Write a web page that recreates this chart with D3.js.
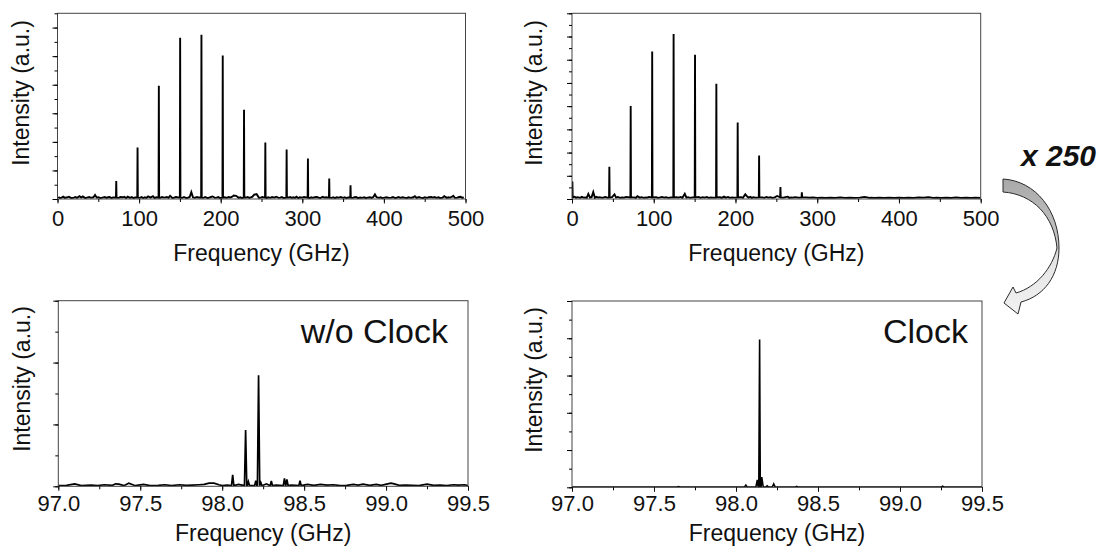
<!DOCTYPE html>
<html><head><meta charset="utf-8">
<script src="https://cdn.jsdelivr.net/npm/d3@7"></script>
<style>
body{margin:0;background:#fff}
svg{display:block}
text{font-family:"Liberation Sans",Arial,Helvetica,sans-serif;fill:#111}
</style>
</head><body>
<svg id="chart" width="1100" height="554"></svg>
<script>
// ---------------- DATA ----------------
// Top-left: comb spectrum without clock (intensity a.u.)
const peakFreqTL = [72.0, 98.1, 124.2, 150.3, 176.4, 202.5, 228.6, 254.7, 280.8, 306.9, 333.0, 359.1];
const peakIntTL  = [0.63, 1.80, 3.96, 5.64, 5.75, 5.02, 3.12, 1.98, 1.73, 1.42, 0.72, 0.48];
const noiseFreqTL = [1,3,5,7,9,12,14,17,20,22,24,27,29,31,34,36,39,41,44,46,48,50,53,55,58,60,62,64,66,68,75,77,80,82,84,86,89,91,93,95,101,103,105,107,109,111,114,117,119,121,126,128,131,134,136,138,141,143,145,147,153,155,158,160,162,164,166,168,171,173,179,181,184,186,188,190,193,195,197,199,205,207,210,212,214,216,219,222,224,226,231,233,235,237,239,241,244,247,249,251,256,258,261,263,266,268,271,273,275,277,283,285,287,289,291,293,295,297,300,302,309,311,313,315,318,320,322,325,327,329,336,338,340,342,345,347,350,352,354,356,362,364,366,368,371,373,376,378,380,383,385,387,389,391,394,396,398,401,403,406,409,411,414,416,418,420,423,425,428,430,433,436,438,440,443,445,448,450,453,455,458,460,462,464,467,469,472,474,477,479,481,483,485,487,490,492,494,496,498,500];
const noiseIntTL  = [0.07,0.03,0.05,0.08,0.04,0.06,0.08,0.03,0.05,0.07,0.04,0.10,0.05,0.09,0.03,0.05,0.07,0.04,0.06,0.14,0.05,0.06,0.03,0.05,0.07,0.04,0.06,0.07,0.03,0.05,0.04,0.07,0.06,0.08,0.03,0.08,0.04,0.07,0.03,0.05,0.04,0.07,0.03,0.06,0.04,0.09,0.05,0.10,0.03,0.06,0.04,0.07,0.05,0.07,0.04,0.11,0.03,0.05,0.07,0.06,0.04,0.07,0.03,0.05,0.07,0.24,0.06,0.04,0.07,0.05,0.04,0.07,0.03,0.05,0.07,0.09,0.04,0.05,0.07,0.03,0.06,0.04,0.07,0.05,0.08,0.12,0.11,0.04,0.06,0.03,0.05,0.07,0.04,0.06,0.08,0.15,0.17,0.04,0.05,0.07,0.03,0.06,0.04,0.07,0.05,0.08,0.04,0.05,0.07,0.03,0.05,0.07,0.04,0.06,0.04,0.08,0.03,0.06,0.05,0.07,0.03,0.06,0.04,0.06,0.07,0.05,0.03,0.08,0.05,0.06,0.04,0.06,0.03,0.06,0.05,0.07,0.04,0.06,0.03,0.05,0.04,0.06,0.07,0.03,0.05,0.04,0.06,0.03,0.05,0.06,0.04,0.07,0.16,0.06,0.04,0.06,0.03,0.05,0.06,0.04,0.05,0.07,0.03,0.05,0.07,0.04,0.06,0.05,0.03,0.06,0.04,0.06,0.10,0.04,0.07,0.05,0.03,0.06,0.04,0.06,0.07,0.05,0.07,0.04,0.06,0.03,0.05,0.10,0.04,0.06,0.05,0.07,0.11,0.04,0.05,0.07,0.08,0.04,0.06];

// Top-right: comb spectrum with clock
const peakFreqTR = [0.5, 45.7, 71.8, 98.1, 124.3, 150.5, 176.6, 202.7, 228.9, 255.0, 281.2];
const peakIntTR  = [0.75, 1.39, 4.01, 6.35, 7.11, 6.21, 4.97, 3.30, 1.87, 0.52, 0.29];
const noiseFreqTR = [3,5,7,10,12,14,16,18,20,22,24,26,28,30,32,34,37,39,41,43,49,52,54,56,59,61,64,66,76,78,80,83,85,88,90,92,94,103,105,108,110,113,115,118,121,128,130,133,135,138,140,142,145,147,155,157,160,162,165,167,170,172,181,183,186,188,191,193,196,198,207,209,212,214,216,218,220,222,224,233,235,238,240,243,245,248,251,259,261,264,266,268,270,273,275,277,286,290,295,300,305,310,316,322,328,334,340,346,352,358,364,366,370,376,382,388,394,400,406,412,418,424,430,436,442,446,452,458,464,470,476,482,488,494,500];
const noiseIntTR  = [0.10,0.06,0.08,0.05,0.09,0.06,0.07,0.05,0.22,0.06,0.08,0.30,0.05,0.09,0.06,0.08,0.05,0.07,0.09,0.06,0.08,0.20,0.06,0.09,0.05,0.07,0.06,0.09,0.07,0.05,0.12,0.06,0.08,0.05,0.07,0.06,0.09,0.08,0.05,0.07,0.09,0.06,0.08,0.05,0.07,0.08,0.06,0.09,0.05,0.22,0.06,0.08,0.05,0.07,0.09,0.05,0.08,0.06,0.09,0.05,0.07,0.06,0.08,0.05,0.10,0.06,0.09,0.05,0.07,0.06,0.08,0.05,0.20,0.12,0.06,0.09,0.05,0.08,0.06,0.07,0.05,0.09,0.06,0.08,0.05,0.07,0.13,0.06,0.08,0.10,0.05,0.07,0.06,0.08,0.07,0.06,0.07,0.06,0.07,0.05,0.06,0.05,0.06,0.05,0.07,0.05,0.06,0.05,0.06,0.09,0.05,0.06,0.05,0.06,0.05,0.06,0.05,0.06,0.05,0.06,0.05,0.07,0.06,0.08,0.05,0.06,0.05,0.06,0.05,0.07,0.05,0.06,0.05,0.06,0.05];

// Bottom-left: zoom of ~98 GHz line, without clock
const peakFreqBL = [98.064, 98.143, 98.160, 98.205, 98.222, 98.236, 98.300, 98.380, 98.395, 98.475];
const peakIntBL  = [0.37, 1.82, 0.15, 0.18, 3.59, 0.12, 0.17, 0.26, 0.22, 0.18];
const noiseFreqBL = [97.00,97.05,97.10,97.14,97.20,97.24,97.28,97.33,97.35,97.37,97.40,97.43,97.47,97.52,97.56,97.61,97.65,97.69,97.74,97.78,97.82,97.86,97.89,97.92,97.95,97.98,98.00,98.03,98.10,98.27,98.33,98.42,98.45,98.52,98.56,98.60,98.64,98.68,98.72,98.76,98.80,98.83,98.86,98.90,98.94,98.97,99.01,99.03,99.05,99.08,99.12,99.16,99.20,99.25,99.29,99.33,99.37,99.41,99.44,99.48,99.50];
const noiseIntBL  = [0.02,0.03,0.08,0.02,0.04,0.02,0.05,0.03,0.08,0.07,0.02,0.10,0.02,0.06,0.02,0.03,0.05,0.02,0.05,0.03,0.04,0.05,0.06,0.10,0.10,0.05,0.02,0.04,0.06,0.08,0.04,0.04,0.03,0.06,0.03,0.06,0.04,0.05,0.02,0.03,0.06,0.04,0.07,0.03,0.06,0.03,0.08,0.10,0.08,0.03,0.04,0.03,0.02,0.07,0.03,0.04,0.02,0.05,0.04,0.05,0.02];

// Bottom-right: zoom of ~98 GHz line, with clock
const peakFreqBR = [97.650, 98.060, 98.130, 98.144, 98.157, 98.190, 98.230, 98.370, 99.260];
const peakIntBR  = [0.04, 0.12, 0.40, 7.93, 0.55, 0.08, 0.18, 0.05, 0.06];
const noiseFreqBR = [97.00,97.20,97.40,97.80,97.95,98.10,98.30,98.50,98.80,99.10,99.40,99.50];
const noiseIntBR  = [0.01,0.01,0.01,0.01,0.01,0.02,0.02,0.01,0.01,0.01,0.01,0.01];

// Axis tick definitions
const xMajorTop = [0, 100, 200, 300, 400, 500];
const xMajorBottom = [97.0, 97.5, 98.0, 98.5, 99.0, 99.5];
const xLabel = "Frequency (GHz)";
const yLabel = "Intensity (a.u.)";
const noteLabels = ["w/o Clock", "Clock"];
const scaleFactorLabel = "x 250";

// ---------------- LAYOUT ----------------
const svg = d3.select("#chart");

const panels = [
  {pf: peakFreqTL, pi: peakIntTL, nf: noiseFreqTL, ni: noiseIntTL, base: 0.05, halfW: 0.35, sw: 1.9,
   xDom: [0, 500], yDom: [0, 6.5], xMaj: xMajorTop, xMinStep: 50, yMajStep: 1, yMinStep: 0.5,
   fmt: d3.format("d"), left: 57.5, right: 465.5, top: 13.3, bottom: 199,
   yLabX: 29, yLabY: 93, tickBase: 226, xLabY: 261, note: null},
  {pf: peakFreqTR, pi: peakIntTR, nf: noiseFreqTR, ni: noiseIntTR, base: 0.07, halfW: 0.35, sw: 1.9,
   xDom: [0, 500], yDom: [0, 8], xMaj: xMajorTop, xMinStep: 50, yMajStep: 1, yMinStep: 0.5,
   fmt: d3.format("d"), left: 572, right: 980.7, top: 13.3, bottom: 199,
   yLabX: 542, yLabY: 93, tickBase: 226, xLabY: 261, note: null},
  {pf: peakFreqBL, pi: peakIntBL, nf: noiseFreqBL, ni: noiseIntBL, base: 0.02, halfW: 0.007, sw: 1.7,
   xDom: [97, 99.5], yDom: [0, 6], xMaj: xMajorBottom, xMinStep: 0.25, yMajStep: 2, yMinStep: 1,
   fmt: d3.format(".1f"), left: 58.3, right: 468, top: 300.7, bottom: 486.3,
   yLabX: 30, yLabY: 379, tickBase: 511, xLabY: 541, note: noteLabels[0]},
  {pf: peakFreqBR, pi: peakIntBR, nf: noiseFreqBR, ni: noiseIntBR, base: 0.01, halfW: 0.009, sw: 1.6,
   xDom: [97, 99.5], yDom: [0, 10], xMaj: xMajorBottom, xMinStep: 0.25, yMajStep: 2, yMinStep: 1,
   fmt: d3.format(".1f"), left: 572, right: 982, top: 301, bottom: 487.3,
   yLabX: 542, yLabY: 380, tickBase: 511, xLabY: 541, note: noteLabels[1]}
];

function buildSeries(p) {
  const pts = [];
  const n = Math.min(p.nf.length, p.ni.length);
  for (let i = 0; i < n; i++) pts.push([p.nf[i], p.ni[i]]);
  p.pf.forEach((f, i) => {
    pts.push([f - p.halfW, p.base]);
    pts.push([f, p.pi[i]]);
    pts.push([f + p.halfW, p.base]);
  });
  pts.sort((a, b) => a[0] - b[0]);
  return pts;
}

panels.forEach(p => {
  const x = d3.scaleLinear().domain(p.xDom).range([p.left, p.right]);
  const y = d3.scaleLinear().domain(p.yDom).range([p.bottom, p.top]);
  const g = svg.append("g");

  const cid = "clip" + Math.round(p.left) + Math.round(p.top);
  svg.append("clipPath").attr("id", cid).append("rect")
    .attr("x", p.left).attr("y", p.top).attr("width", p.right - p.left).attr("height", p.bottom - p.top);

  // spectrum line
  const line = d3.line().defined(d => isFinite(d[1])).x(d => x(d[0])).y(d => y(d[1]));
  g.append("path").datum(buildSeries(p))
    .attr("clip-path", `url(#${cid})`)
    .attr("fill", "none").attr("stroke", "#000").attr("stroke-width", p.sw)
    .attr("stroke-linejoin", "miter").attr("d", line);

  // box
  g.append("rect").attr("x", p.left).attr("y", p.top)
    .attr("width", p.right - p.left).attr("height", p.bottom - p.top)
    .attr("fill", "none").attr("stroke", "#444").attr("stroke-width", 1);

  // x minor ticks
  const xMin = d3.range(p.xDom[0], p.xDom[1] + 1e-9, p.xMinStep);
  g.append("g").attr("transform", `translate(0,${p.bottom})`)
    .call(d3.axisBottom(x).tickValues(xMin).tickSize(3).tickFormat(""))
    .call(a => a.select(".domain").remove());
  // x major ticks + labels
  const xa = g.append("g").attr("transform", `translate(0,${p.bottom})`)
    .call(d3.axisBottom(x).tickValues(p.xMaj).tickSize(4.5).tickPadding(3).tickFormat(p.fmt));
  xa.select(".domain").remove();
  xa.selectAll("line").attr("stroke", "#111");
  xa.selectAll("text").attr("y", null).attr("dy", null)
    .attr("transform", `translate(0,${p.tickBase - p.bottom})`)
    .style("font-size", "22px").style("font-family", "'Liberation Sans',Arial,sans-serif").attr("fill", "#111");

  // y ticks (no labels)
  const yMin = d3.range(p.yDom[0], p.yDom[1] + 1e-9, p.yMinStep);
  g.append("g").attr("transform", `translate(${p.left},0)`)
    .call(d3.axisLeft(y).tickValues(yMin).tickSize(3).tickFormat(""))
    .call(a => a.select(".domain").remove());
  const yMaj = d3.range(p.yDom[0], p.yDom[1] + 1e-9, p.yMajStep);
  g.append("g").attr("transform", `translate(${p.left},0)`)
    .call(d3.axisLeft(y).tickValues(yMaj).tickSize(5).tickFormat(""))
    .call(a => a.select(".domain").remove());

  // axis titles
  g.append("text").attr("x", (p.left + p.right) / 2).attr("y", p.xLabY)
    .attr("text-anchor", "middle").style("font-size", "23px").text(xLabel);
  g.append("text").attr("transform", `translate(${p.yLabX},${p.yLabY}) rotate(-90)`)
    .attr("text-anchor", "middle").style("font-size", "23px").text(yLabel);

  if (p.note) {
    g.append("text").attr("x", p.right - (p.note === "Clock" ? 14 : 20)).attr("y", 343)
      .attr("text-anchor", "end").style("font-size", "34px").text(p.note);
  }
});

// "x 250" annotation and curved arrow
svg.append("text").attr("x", 1096).attr("y", 166).attr("text-anchor", "end")
  .style("font-size", "30px").style("font-weight", "bold").style("font-style", "italic")
  .attr("fill", "#151515").text(scaleFactorLabel);

const defs = svg.append("defs");
const grad = defs.append("linearGradient").attr("id", "arrowGrad")
  .attr("x1", 0).attr("y1", 0).attr("x2", 0).attr("y2", 1);
grad.append("stop").attr("offset", "0%").attr("stop-color", "#a9a9a9");
grad.append("stop").attr("offset", "45%").attr("stop-color", "#c4c4c4");
grad.append("stop").attr("offset", "60%").attr("stop-color", "#e4e4e4");
grad.append("stop").attr("offset", "100%").attr("stop-color", "#f2f2f2");

svg.append("path")
  .attr("d", "M1003,179 C1036,181 1059,211 1059,248 C1059,276 1044,296 1021,302 L1018,314 L1004,303 L1013,287 L1016,293 C1037,287 1052,268 1057,248 C1054,216 1033,194 1003,192 Z")
  .attr("fill", "url(#arrowGrad)").attr("stroke", "#2a2a2a").attr("stroke-width", 1)
  .attr("stroke-linejoin", "miter");
</script>
</body></html>
